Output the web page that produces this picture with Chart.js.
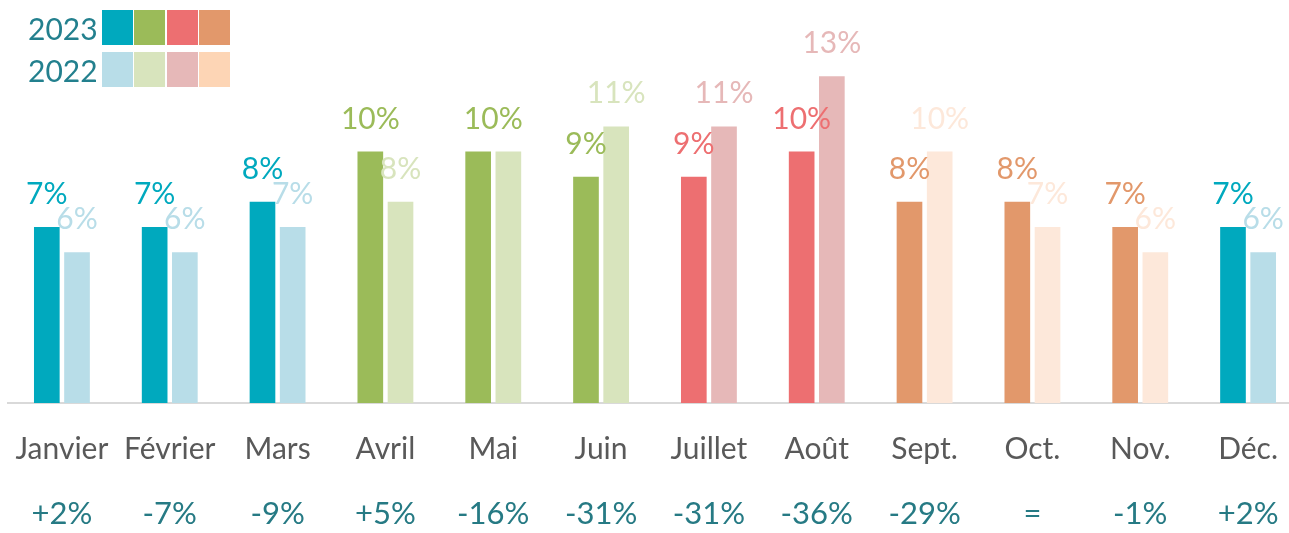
<!DOCTYPE html>
<html>
<head>
<meta charset="utf-8">
<script src="https://cdn.jsdelivr.net/npm/chart.js@4.4.0/dist/chart.umd.min.js"></script>
<style>
  html, body { margin: 0; padding: 0; background: #fff; overflow: hidden; }
  #wrap { position: relative; width: 1302px; height: 533px; }
  #legend { position: absolute; left: 0; top: 0; font-family: Lato, "Open Sans", sans-serif; }
  .lg-text { position: absolute; left: 28px; font-size: 30px; color: #23808e; line-height: 36px; }
  .lg-box { position: absolute; width: 31px; height: 35px; }
</style>
</head>
<body>
<div id="wrap">
  <canvas id="mycanvas" width="1302" height="533"></canvas>
  <div id="legend"></div>
</div>
<script>
var months = ['Janvier', 'Février', 'Mars', 'Avril', 'Mai', 'Juin', 'Juillet', 'Août', 'Sept.', 'Oct.', 'Nov.', 'Déc.'];
var changes = ['+2%', '-7%', '-9%', '+5%', '-16%', '-31%', '-31%', '-36%', '-29%', '=', '-1%', '+2%'];
var values2023 = [7, 7, 8, 10, 10, 9, 9, 10, 8, 8, 7, 7];
var values2022 = [6, 6, 7, 8, 10, 11, 11, 13, 10, 7, 6, 6];
var seasons = ['hiver', 'hiver', 'hiver', 'printemps', 'printemps', 'printemps', 'ete', 'ete', 'automne', 'automne', 'automne', 'hiver'];

// colours per season: 2023 bars, 2022 bars, 2022 legend box
var palette = {
  hiver:     { dark: '#00a9be', light: '#b8dde8', legend: '#b8dde8' },
  printemps: { dark: '#9bbb59', light: '#d8e4bd', legend: '#d8e4bd' },
  ete:       { dark: '#ed6f71', light: '#e6b8b8', legend: '#e6b8b8' },
  automne:   { dark: '#e2986b', light: '#fde8da', legend: '#fdd5b5' }
};
var legendOrder = ['hiver', 'printemps', 'ete', 'automne'];

var fontName = 'Lato, "Open Sans", sans-serif';

var darkColors = seasons.map(function(s) { return palette[s].dark; });
var lightColors = seasons.map(function(s) { return palette[s].light; });

// legend
var legend = document.getElementById('legend');
var rows = [{ label: '2023', key: 'dark', top: 10 }, { label: '2022', key: 'legend', top: 52 }];
rows.forEach(function(r) {
  var t = document.createElement('div');
  t.className = 'lg-text';
  t.style.top = r.top + 'px';
  t.textContent = r.label;
  legend.appendChild(t);
  legendOrder.forEach(function(s, j) {
    var b = document.createElement('div');
    b.className = 'lg-box';
    b.style.left = (102 + j * 32.3) + 'px';
    b.style.top = r.top + 'px';
    b.style.background = palette[s][r.key];
    legend.appendChild(b);
  });
});

var valueLabels = {
  id: 'valueLabels',
  afterDatasetsDraw: function(chart) {
    var ctx = chart.ctx;
    var m0 = chart.getDatasetMeta(0);
    var m1 = chart.getDatasetMeta(1);
    ctx.save();
    ctx.font = '30px ' + fontName;
    ctx.textAlign = 'center';
    ctx.textBaseline = 'alphabetic';
    for (var i = 0; i < months.length; i++) {
      var a = m0.data[i], b = m1.data[i];
      if (values2023[i] === values2022[i]) {
        ctx.fillStyle = darkColors[i];
        ctx.fillText(values2023[i] + '%', (a.x + b.x) / 2, a.y - 23);
        continue;
      }
      ctx.fillStyle = lightColors[i];
      ctx.fillText(values2022[i] + '%', b.x, b.y - 23);
      ctx.fillStyle = darkColors[i];
      ctx.fillText(values2023[i] + '%', a.x, a.y - 23);
    }
    ctx.restore();
  }
};

function noSidePadding(scale, h) {
  scale.height = h;
  scale.paddingLeft = 0;
  scale.paddingRight = 0;
}

var ctx = document.getElementById('mycanvas');

var barGraph = new Chart(ctx, {
  type: 'bar',
  data: {
    labels: months,
    datasets: [
      { label: '2023', data: values2023, backgroundColor: darkColors, categoryPercentage: 0.56, barPercentage: 0.85 },
      { label: '2022', data: values2022, backgroundColor: lightColors, categoryPercentage: 0.56, barPercentage: 0.85 }
    ]
  },
  options: {
    responsive: false,
    animation: false,
    layout: { padding: { left: 8, right: 0, top: 51, bottom: 0 } },
    plugins: { legend: { display: false }, tooltip: { enabled: false } },
    scales: {
      y: {
        display: false,
        min: 0,
        max: 14
      },
      x: {
        position: 'bottom',
        grid: { display: false, drawTicks: false },
        border: { display: true, color: '#d9d9d9', width: 2 },
        ticks: { color: '#595959', font: { family: fontName, size: 30 }, padding: 28, maxRotation: 0, autoSkip: false },
        afterFit: function(scale) { noSidePadding(scale, 66); }
      },
      x2: {
        type: 'category',
        labels: changes,
        position: 'bottom',
        offset: true,
        grid: { display: false, drawTicks: false },
        border: { display: false },
        ticks: { color: '#267a84', font: { family: fontName, size: 31 }, padding: 26, maxRotation: 0, autoSkip: false },
        afterFit: function(scale) { noSidePadding(scale, 64); }
      }
    }
  },
  plugins: [valueLabels]
});
</script>
</body>
</html>
